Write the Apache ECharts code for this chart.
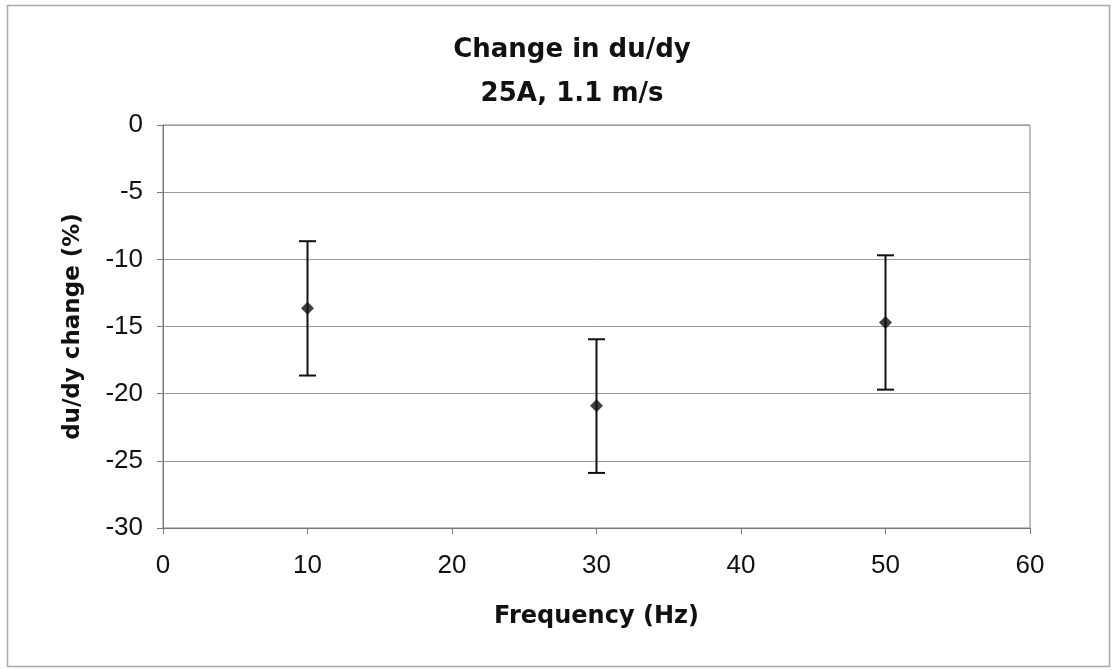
<!DOCTYPE html>
<html><head><meta charset="utf-8">
<script src="https://cdn.jsdelivr.net/npm/echarts@6/dist/echarts.min.js"></script>
<style>html,body{margin:0;padding:0;background:#fff}#c{width:1112px;height:670px}</style>
</head><body><div id="c"></div>
<script>
const frequency = [10, 30, 50];
const change = [-13.65, -20.9, -14.7];
const errLow = [-18.65, -25.9, -19.7];
const errHigh = [-8.65, -15.95, -9.7];
const xTicks = [0, 10, 20, 30, 40, 50, 60];
const yTicks = [0, -5, -10, -15, -20, -25, -30];

const chart = echarts.init(document.getElementById('c'));
const font = '"Liberation Sans", Arial, sans-serif';
const boldFont = '"DejaVu Sans", "Liberation Sans", sans-serif';
const pts = frequency.map((f, i) => [f, change[i]]);
const errs = frequency.map((f, i) => [f, errLow[i], errHigh[i]]);
chart.setOption({
  animation: false,
  backgroundColor: '#fff',
  graphic: [{type: 'rect', shape: {x: 7.5, y: 5.5, width: 1102, height: 661}, style: {fill: 'none', stroke: '#a8a8a8', lineWidth: 1.5}, silent: true}],
  title: {text: 'Change in du/dy\n25A, 1.1 m/s', left: 567, textAlign: 'center', top: 23,
    textStyle: {fontFamily: boldFont, fontWeight: 'bold', fontSize: 26, lineHeight: 44, color: '#111'}},
  grid: {left: 163, right: 82, top: 125, bottom: 142, show: true, borderColor: '#808080', borderWidth: 1},
  xAxis: {type: 'value', min: 0, max: 60, interval: 10,
    name: 'Frequency (Hz)', nameLocation: 'middle', nameGap: 77,
    nameTextStyle: {fontFamily: boldFont, fontWeight: 'bold', fontSize: 24, color: '#111'},
    axisLine: {show: true, onZero: false, lineStyle: {color: '#777'}},
    axisTick: {show: true, length: 6, lineStyle: {color: '#777'}},
    axisLabel: {fontFamily: font, fontSize: 26, color: '#111', margin: 25},
    splitLine: {show: false}},
  yAxis: {type: 'value', min: -30, max: 0, interval: 5,
    name: 'du/dy change (%)', nameLocation: 'middle', nameGap: 78, nameRotate: 90,
    nameTextStyle: {fontFamily: boldFont, fontWeight: 'bold', fontSize: 23, color: '#111'},
    axisLine: {show: true, lineStyle: {color: '#777'}},
    axisTick: {show: true, length: 6, lineStyle: {color: '#777'}},
    axisLabel: {fontFamily: font, fontSize: 26, color: '#111', margin: 20},
    splitLine: {show: true, lineStyle: {color: '#9a9a9a', width: 1}}},
  series: [
    {type: 'custom', data: errs, z: 3,
      renderItem: function (params, api) {
        const x = api.value(0);
        const lo = api.coord([x, api.value(1)]);
        const hi = api.coord([x, api.value(2)]);
        const w = 8.5;
        const st = {stroke: '#111', lineWidth: 2};
        return {type: 'group', children: [
          {type: 'line', shape: {x1: lo[0], y1: lo[1], x2: hi[0], y2: hi[1]}, style: st},
          {type: 'line', shape: {x1: lo[0] - w, y1: lo[1], x2: lo[0] + w, y2: lo[1]}, style: st},
          {type: 'line', shape: {x1: hi[0] - w, y1: hi[1], x2: hi[0] + w, y2: hi[1]}, style: st}
        ]};
      }},
    {type: 'scatter', data: pts, symbol: 'diamond', symbolSize: [13, 13], z: 4,
      itemStyle: {color: '#111'}}
  ]
});
</script></body></html>
